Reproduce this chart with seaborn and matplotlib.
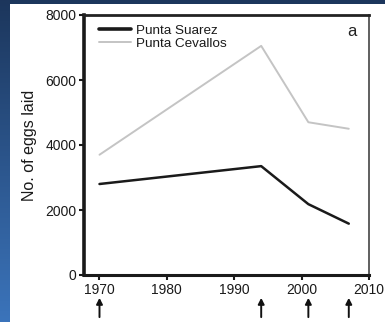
import numpy as np
import pandas as pd
import matplotlib
matplotlib.use("Agg")
import matplotlib.pyplot as plt
from matplotlib.patches import Rectangle, FancyArrowPatch
import seaborn as sns

# Egg counts per colony in census years
years = [1970, 1994, 2001, 2007]
suarez = [2800, 3350, 2180, 1580]
cevallos = [3700, 7050, 4700, 4500]
census_years = [1970, 1994, 2001, 2007]
series_names = ["Punta Suarez", "Punta Cevallos"]
x_ticks = [1970, 1980, 1990, 2000, 2010]
y_ticks = [0, 2000, 4000, 6000, 8000]

df = pd.DataFrame({
    "year": years * 2,
    "eggs": suarez + cevallos,
    "site": [series_names[0]] * len(years) + [series_names[1]] * len(years),
})

sns.set_theme(style="ticks")
plt.rcParams["font.family"] = ["Liberation Sans", "DejaVu Sans"]

W, H = 385, 322
fig = plt.figure(figsize=(W / 100, H / 100), dpi=100)

# slide backdrop: navy-to-blue gradient with a white panel
bg = fig.add_axes([0, 0, 1, 1], zorder=-10)
bg.set_axis_off()
grad = np.linspace(0, 1, 256)[:, None]
c_top = np.array([0x1c, 0x36, 0x5c]) / 255
c_bot = np.array([0x3b, 0x74, 0xbb]) / 255
img = c_top[None, None, :] * (1 - grad[..., None]) + c_bot[None, None, :] * grad[..., None]
img = np.repeat(img, 2, axis=1)
bg.imshow(img, aspect="auto", extent=[0, 1, 0, 1], origin="upper")
bg.add_patch(Rectangle((10 / W, 0), 1 - 10 / W, 1 - 4 / H, transform=bg.transAxes,
                       facecolor="white", edgecolor="none"))
bg.set_xlim(0, 1)
bg.set_ylim(0, 1)

ax = fig.add_axes([84 / W, 47 / H, 285 / W, 260 / H])
ax.set_facecolor("white")
sns.lineplot(data=df, x="year", y="eggs", hue="site", hue_order=series_names,
             palette={series_names[0]: "#1a1a1a", series_names[1]: "#c4c4c4"},
             ax=ax, legend=True)
for ln, lw in zip(ax.lines, [1.8, 1.4]):
    ln.set_linewidth(lw)

ax.set_xlim(1967.7, 2010)
ax.set_ylim(0, 8000)
ax.set_xticks(x_ticks)
ax.set_yticks(y_ticks)
ax.tick_params(axis="both", labelsize=10, length=3.5, width=1.5, color="#1a1a1a",
               labelcolor="#1a1a1a", pad=2)
ax.set_xlabel("")
ax.set_ylabel("No. of eggs laid", fontsize=11.5, color="#1a1a1a", labelpad=6)

for side, lw, col in [("left", 2.6, "#1a1a1a"), ("bottom", 2.2, "#1a1a1a"),
                      ("top", 2.0, "#222222"), ("right", 1.2, "#444444")]:
    ax.spines[side].set_visible(True)
    ax.spines[side].set_linewidth(lw)
    ax.spines[side].set_color(col)

leg = ax.legend(loc="upper left", frameon=False, fontsize=9.7, handlelength=2.4,
                handletextpad=0.3, labelspacing=0.05, borderaxespad=0.3,
                bbox_to_anchor=(0.02, 1.0))
for h, lw in zip(leg.get_lines(), [2.6, 1.4]):
    h.set_linewidth(lw)
for t in leg.get_texts():
    t.set_color("#1a1a1a")

ax.text(0.955, 0.965, "a", transform=ax.transAxes, ha="right", va="top",
        fontsize=12, color="#222222")

# census markers below the axis
for yr in census_years:
    arr = FancyArrowPatch((yr, -0.162), (yr, -0.088),
                          transform=ax.get_xaxis_transform(),
                          arrowstyle="-|>,head_length=3.5,head_width=1.8",
                          color="#111111", linewidth=1.4, clip_on=False,
                          shrinkA=0, shrinkB=0)
    ax.add_patch(arr)

fig.savefig("out.png", dpi=100)
